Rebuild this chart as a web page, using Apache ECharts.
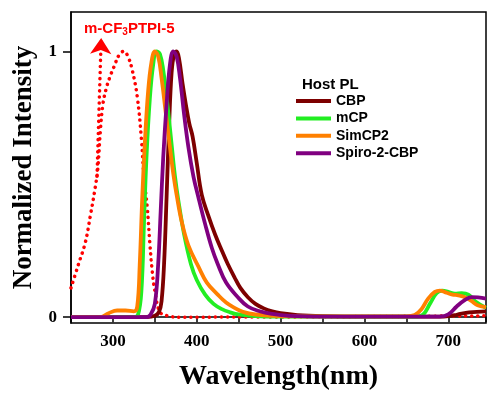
<!DOCTYPE html>
<html>
<head>
<meta charset="utf-8">
<script src="https://cdn.jsdelivr.net/npm/echarts@6/dist/echarts.min.js"></script>
<style>
html,body{margin:0;padding:0;background:#fff;}
#chart{width:489px;height:396px;}
</style>
</head>
<body>
<div id="chart"></div>
<script>
// ---- data (wavelength nm, normalized intensity) ----
var seriesNames = ['CBP', 'mCP', 'SimCP2', 'Spiro-2-CBP'];
var xTickLabels = [300, 400, 500, 600, 700];
var yTickLabels = [0, 1];

var cbp = [[250,0],[340,0],[350,0.005],[355,0.02],[358,0.06],[361,0.2],[364,0.45],[367,0.72],[370,0.92],[373,0.99],[376,1.0],[379,0.97],[383,0.88],[387,0.8],[391,0.73],[395,0.68],[400,0.58],[406,0.46],[414,0.38],[422,0.31],[430,0.25],[437,0.2],[445,0.15],[452,0.11],[461,0.075],[470,0.05],[480,0.033],[490,0.022],[500,0.015],[520,0.008],[550,0.004],[600,0.002],[690,0.002],[700,0.004],[710,0.009],[725,0.018],[745,0.022]];
var mcp = [[250,0],[325,0],[330,0.01],[334,0.1],[337,0.35],[340,0.6],[344,0.82],[348,0.95],[352,1.0],[356,0.99],[360,0.93],[365,0.8],[370,0.65],[374,0.53],[378,0.44],[385,0.31],[393,0.2],[400,0.14],[410,0.085],[420,0.05],[430,0.03],[440,0.018],[450,0.01],[470,0.004],[500,0.002],[660,0.002],[670,0.01],[678,0.05],[686,0.09],[693,0.1],[700,0.095],[708,0.088],[716,0.09],[724,0.085],[732,0.06],[745,0.035]];
var simcp2 = [[250,0],[285,0],[295,0.015],[305,0.025],[315,0.025],[325,0.022],[329,0.04],[332,0.2],[335,0.45],[338,0.65],[342,0.85],[346,0.96],[350,1.0],[354,0.98],[358,0.9],[363,0.77],[368,0.64],[372,0.54],[376,0.46],[382,0.36],[390,0.27],[402,0.19],[412,0.13],[425,0.085],[435,0.055],[445,0.035],[455,0.02],[470,0.01],[500,0.004],[550,0.003],[650,0.003],[660,0.008],[668,0.03],[676,0.07],[684,0.095],[690,0.1],[698,0.092],[705,0.085],[712,0.082],[720,0.075],[728,0.06],[735,0.045],[745,0.038]];
var spiro = [[250,0],[340,0],[345,0.01],[350,0.05],[354,0.2],[357,0.4],[360,0.6],[364,0.8],[368,0.95],[372,1.0],[376,0.98],[380,0.9],[385,0.76],[390,0.64],[396,0.53],[402,0.45],[410,0.35],[418,0.26],[425,0.2],[435,0.13],[449,0.075],[461,0.04],[475,0.022],[490,0.012],[510,0.005],[550,0.002],[690,0.002],[700,0.01],[710,0.04],[720,0.065],[728,0.075],[745,0.07]];
var ptpi = [[250,0.11],[259,0.2],[267,0.28],[273,0.38],[279,0.49],[282,0.56],[285,0.7],[288,0.8],[292,0.86],[296,0.9],[301,0.94],[308,0.99],[313,1.0],[318,0.98],[323,0.93],[329,0.83],[334,0.67],[337,0.53],[341,0.41],[344,0.28],[347,0.17],[350,0.1],[356,0.02],[365,0.005],[380,0],[745,0.005]];
var arrowFrom = [281, 0.53];
var arrowTo = [286, 1.05];

var colors = ['#7d0000', '#22ee22', '#ff8000', '#800080'];
var dataSets = [cbp, mcp, simcp2, spiro];

var chart = echarts.init(document.getElementById('chart'), null, {renderer: 'canvas'});
var serif = '"Liberation Serif", "Times New Roman", serif';
var sans = '"Liberation Sans", Arial, sans-serif';
var dotStyle = {color: '#ff0000', width: 3.5, type: [0.1, 6], cap: 'round'};

var series = [{
  name: 'm-CF3PTPI-5',
  type: 'line',
  data: ptpi,
  smooth: 0.4,
  showSymbol: false,
  z: 1,
  lineStyle: dotStyle,
  itemStyle: {color: '#ff0000'},
  markLine: {
    silent: true,
    symbol: ['none', 'arrow'],
    symbolSize: 16,
    label: {show: false},
    lineStyle: dotStyle,
    data: [[{coord: arrowFrom}, {coord: arrowTo}]]
  }
}];
dataSets.forEach(function (d, i) {
  series.push({
    name: seriesNames[i],
    type: 'line',
    data: d,
    smooth: 0.4,
    showSymbol: false,
    z: 2 + i,
    lineStyle: {color: colors[i], width: 3.8},
    itemStyle: {color: colors[i]}
  });
});

chart.setOption({
  animation: false,
  backgroundColor: '#fff',
  title: [{
    left: 79, top: 16,
    text: '{a|m-CF}{s|3}{a|PTPI-5}',
    textStyle: {
      rich: {
        a: {fontFamily: sans, fontWeight: 'bold', fontSize: 15, color: '#ff0000'},
        s: {fontFamily: sans, fontWeight: 'bold', fontSize: 10, color: '#ff0000', verticalAlign: 'bottom', padding: [6, 0, 0, 0]}
      }
    }
  }, {
    left: 297, top: 72,
    text: 'Host PL',
    textStyle: {fontFamily: sans, fontWeight: 'bold', fontSize: 15, color: '#000'}
  }],
  legend: {
    data: seriesNames,
    orient: 'vertical',
    left: 291, top: 89,
    icon: 'rect',
    itemWidth: 35, itemHeight: 4,
    itemGap: 3.4,
    textStyle: {fontFamily: sans, fontWeight: 'bold', fontSize: 14, color: '#000', lineHeight: 14}
  },
  grid: {
    left: 71, right: -4, top: 12, bottom: 67,
    show: true, borderColor: '#000', borderWidth: 1.5, backgroundColor: 'transparent'
  },
  xAxis: {
    type: 'value',
    min: 250, max: 745, interval: 50,
    name: 'Wavelength(nm)',
    nameLocation: 'middle',
    nameGap: 40,
    nameTextStyle: {fontFamily: serif, fontWeight: 'bold', fontSize: 28, color: '#000'},
    axisLine: {show: true, lineStyle: {color: '#000', width: 1.5}},
    axisTick: {show: true, length: 5, lineStyle: {color: '#000', width: 1.5}},
    axisLabel: {
      fontFamily: serif, fontWeight: 'bold', fontSize: 17, color: '#000', margin: 10,
      formatter: function (v) { return xTickLabels.indexOf(v) >= 0 ? String(v) : ''; }
    },
    splitLine: {show: false}
  },
  yAxis: {
    type: 'value',
    min: -0.022, max: 1.148,
    name: 'Normalized Intensity',
    nameLocation: 'middle',
    nameGap: 32,
    nameRotate: 90,
    nameTextStyle: {fontFamily: serif, fontWeight: 'bold', fontSize: 27, color: '#000'},
    axisLine: {show: true, lineStyle: {color: '#000', width: 1.5}},
    axisTick: {show: true, length: 8, customValues: yTickLabels, lineStyle: {color: '#000', width: 1.5}},
    axisLabel: {
      fontFamily: serif, fontWeight: 'bold', fontSize: 17, color: '#000', margin: 14,
      customValues: yTickLabels,
      formatter: function (v) { return String(Math.round(v)); }
    },
    splitLine: {show: false}
  },
  series: series
});
</script>
</body>
</html>
